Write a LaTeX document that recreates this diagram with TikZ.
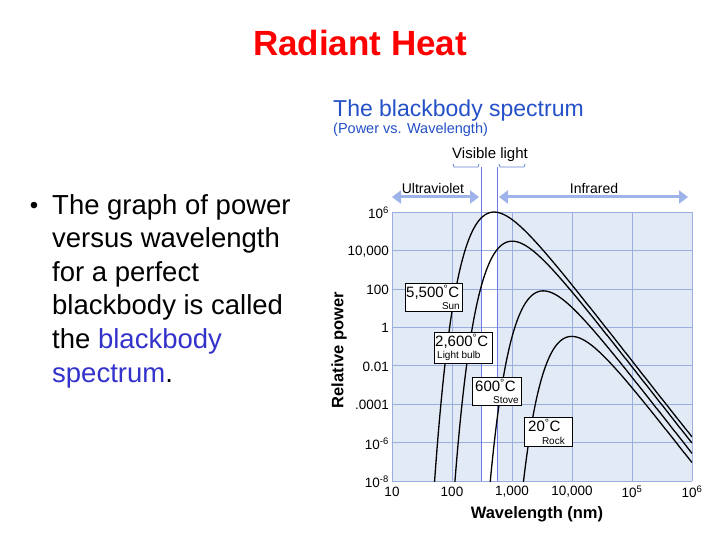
\documentclass[tikz,border=0pt]{standalone}
\usepackage{fontspec}
\setmainfont{Liberation Sans}
\usetikzlibrary{arrows.meta}
\definecolor{gridbg}{HTML}{E2EAF6}
\definecolor{gridln}{HTML}{9AAEDD}
\definecolor{arrowc}{HTML}{9DB3EA}
\definecolor{ttl}{HTML}{2450C8}
\definecolor{txtblue}{HTML}{3333CC}
\newcommand{\sps}[1]{\textsuperscript{#1}}
\tikzset{
  lbl/.style={font=\fontsize{13.5}{14}\selectfont, inner sep=0pt},
  tbox/.style={draw=black, line width=1pt, fill=white, inner sep=1.5pt, align=left},
  big/.style={font=\fontsize{15}{16}\selectfont, inner sep=0pt},
  small/.style={font=\fontsize{10}{11}\selectfont, inner sep=0pt},
  curve/.style={line width=1.3pt, line join=round},
  declare function={bb(\u,\t)= -5*(\u-2) - ((14388/\t)*10^(2-\u))/ln(10) - ln(1-exp(-min((14388/\t)*10^(2-\u),10)))/ln(10) + 14.656;}
}
\begin{document}
\begin{tikzpicture}[x=1pt,y=-1pt]
\useasboundingbox (0,0) rectangle (720,540);
\fill[white] (0,0) rectangle (720,540);
% title
\node[font=\bfseries\fontsize{35}{38}\selectfont, text=red] (title) at (360,43) {Radiant Heat};
% bullet text
\node[font=\fontsize{27.5}{33.6}\selectfont, anchor=north west, align=left, inner sep=0pt] (btext) at (52,194)
  {The graph of power\\versus wavelength\\for a perfect\\blackbody is called\\the \textcolor{txtblue}{blackbody}\\\textcolor{txtblue}{spectrum}.};
\node[font=\fontsize{24}{26}\selectfont, inner sep=0pt] (bul) at (34,208) {•};
% chart title
\node[font=\fontsize{23}{25}\selectfont, text=ttl, anchor=west, inner sep=0pt] (ct) at (333,111) {The blackbody spectrum};
\node[font=\fontsize{14.5}{16}\selectfont, text=ttl, anchor=west, inner sep=0pt] (cs) at (333,130) {(Power vs. Wavelength)};
% plot background
\fill[gridbg] (392,212) rectangle (692,481);
\fill[white] (481,212) rectangle (497,481);
\foreach \i in {0,...,5} \draw[gridln, line width=0.7pt] (392+60*\i,212) -- (392+60*\i,481);
\foreach \j in {0,...,7} \draw[gridln, line width=0.7pt] (392,212+38.43*\j) -- (692,212+38.43*\j);
\coordinate (vl1) at (481,167); \coordinate (vl2) at (497,167);
\draw[gridln!70!blue, line width=1pt] (vl1) -- (481,481);
\draw[gridln!70!blue, line width=1pt] (vl2) -- (497,481);
% visible light brace
\node[big] (vis) at (490,155) {Visible light};
\draw[ttl!70, line width=0.8pt] (453,164) -- (454,167) -- (478,167) -- (479,164);
\draw[ttl!70, line width=0.8pt] (499,164) -- (500,167) -- (524,167) -- (525,164);
% UV / IR arrows
\node[font=\fontsize{14}{15}\selectfont, inner sep=0pt] (uv) at (433,188) {Ultraviolet};
\node[font=\fontsize{14}{15}\selectfont, inner sep=0pt] (ir) at (594,188) {Infrared};
\coordinate (uva) at (392,197); \coordinate (uvb) at (479,197);
\coordinate (ira) at (499,197); \coordinate (irb) at (688,197);
\draw[arrowc, line width=3pt, {Triangle[length=9pt,width=13pt]}-{Triangle[length=9pt,width=13pt]}] (uva) -- (uvb);
\draw[arrowc, line width=3pt, {Triangle[length=9pt,width=13pt]}-{Triangle[length=9pt,width=13pt]}] (ira) -- (irb);
% curves
\begin{scope}
\clip (392,200) rectangle (692,481);
\foreach \T in {5773,2873,873,293}
  \draw[curve] plot[domain=0:5, samples=260, smooth] ({392+60*\x}, {481-19.21*max(bb(\x,\T),-1)});
\end{scope}
% y labels
\foreach \lab [count=\j from 0] in {10\sps{6},{10,000},100,1,0.01,.0001,10\sps{-6},10\sps{-8}}
  \node[lbl, anchor=east] at (389,213+38.43*\j) {\lab};
% x labels
\foreach \lab [count=\i from 0] in {10,100,{1,000},{10,000},10\sps{5},10\sps{6}}
  \node[lbl] at (392+60*\i,492) {\lab};
\node[font=\bfseries\fontsize{16.5}{18}\selectfont, inner sep=0pt] (xl) at (537,514) {Wavelength (nm)};
\node[font=\bfseries\fontsize{16.5}{18}\selectfont, inner sep=0pt, rotate=90] (yl) at (339,350) {Relative power};
% boxes
\node[tbox, anchor=north west, minimum width=57pt, minimum height=28pt] (b1) at (405,283) {};
\node[big, anchor=north west] at (406,285) {5,500\sps{°}C};
\node[small, anchor=south east] at (460,310) {Sun};
\node[tbox, anchor=north west, minimum width=58pt, minimum height=31pt] (b2) at (434,332) {};
\node[big, anchor=north west] at (435,334) {2,600\sps{°}C};
\node[small, anchor=south west] at (437,361) {Light bulb};
\node[tbox, anchor=north west, minimum width=49pt, minimum height=28pt] (b3) at (472,377) {};
\node[big, anchor=north west] at (475,379) {600\sps{°}C};
\node[small, anchor=south east] at (519,404) {Stove};
\node[tbox, anchor=north west, minimum width=48pt, minimum height=29pt] (b4) at (524,417) {};
\node[big, anchor=north west] at (528,419) {20\sps{°}C};
\node[small, anchor=south east] at (565,445) {Rock};
\end{tikzpicture}
\end{document}
